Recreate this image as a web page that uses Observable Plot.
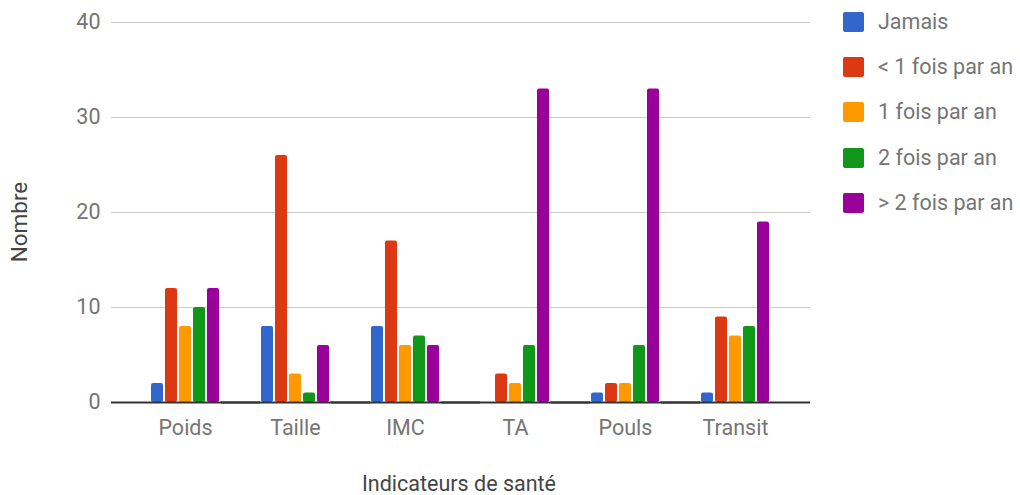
<!DOCTYPE html>
<html>
<head>
<meta charset="utf-8">
<script src="https://cdn.jsdelivr.net/npm/d3@7"></script>
<script src="https://cdn.jsdelivr.net/npm/@observablehq/plot@0.6"></script>
<style>
  body { margin: 0; background: #fff; font-family: Roboto, "Noto Sans", sans-serif; }
  #chart { position: relative; width: 1020px; height: 495px; overflow: hidden; }
  .legend { position: absolute; left: 843px; top: 0; }
  .legend .item { position: absolute; left: 0; height: 20px; white-space: nowrap; }
  .legend .sw { position: absolute; left: 0; top: 0; width: 21px; height: 20px; border-radius: 2px; }
  .legend .lab { position: absolute; left: 35px; top: -1px; font-size: 21.5px; line-height: 22px; color: #757575; }
  .ytitle { position: absolute; left: 19px; top: 222px; transform: translate(-50%, -50%) rotate(-90deg); font-size: 22.5px; line-height: 26px; color: #444; white-space: nowrap; }
  .xtitle { position: absolute; left: 459px; top: 484px; transform: translate(-50%, -50%); font-size: 21.5px; line-height: 24px; color: #444; white-space: nowrap; }
</style>
</head>
<body>
<div id="chart"></div>
<script>
const categories = ["Poids", "Taille", "IMC", "TA", "Pouls", "Transit"];
const series = ["Jamais", "< 1 fois par an", "1 fois par an", "2 fois par an", "> 2 fois par an"];
const jamais   = [2, 8, 8, 0, 1, 1];
const moinsUn  = [12, 26, 17, 3, 2, 9];
const unFois   = [8, 3, 6, 2, 2, 7];
const deuxFois = [10, 1, 7, 6, 6, 8];
const plusDeux = [12, 6, 6, 33, 33, 19];
const colors = ["#3366cc", "#dc3912", "#ff9900", "#109618", "#990099"];
const yTicks = [0, 10, 20, 30, 40];
const yTitle = "Nombre";
const xTitle = "Indicateurs de santé";

const seriesValues = [jamais, moinsUn, unFois, deuxFois, plusDeux];
const data = [];
categories.forEach((c, i) => {
  series.forEach((s, j) => data.push({cat: c, series: s, value: seriesValues[j][i]}));
});

const plot = Plot.plot({
  width: 1020,
  height: 495,
  marginLeft: 129,
  marginRight: 230,
  marginTop: 22,
  marginBottom: 93,
  style: {fontFamily: "Roboto, sans-serif", fontSize: "21.5px", color: "#757575", background: "#fff"},
  fx: {domain: categories, padding: 0, label: null, tickSize: 0, tickPadding: 17},
  x: {domain: series, paddingInner: 0.12, paddingOuter: 1.25, axis: null},
  y: {domain: [0, 40], ticks: yTicks, tickSize: 0, tickPadding: 30, label: null, tickFormat: d => String(d)},
  color: {domain: series, range: colors},
  marks: [
    Plot.ruleY(yTicks.slice(1), {stroke: "#cccccc", strokeWidth: 1, insetLeft: -19, insetRight: -20}),
    Plot.barY(data, {fx: "cat", x: "series", y: "value", fill: "series", rx: 2}),
    Plot.ruleY([0], {stroke: "#333333", strokeWidth: 2, insetLeft: -19, insetRight: -20})
  ]
});

const chart = document.getElementById("chart");
chart.appendChild(plot);

const legend = document.createElement("div");
legend.className = "legend";
series.forEach((s, i) => {
  const item = document.createElement("div");
  item.className = "item";
  item.style.top = (12 + i * 45.2) + "px";
  const sw = document.createElement("div");
  sw.className = "sw";
  sw.style.background = colors[i];
  const lab = document.createElement("div");
  lab.className = "lab";
  lab.textContent = s;
  item.appendChild(sw);
  item.appendChild(lab);
  legend.appendChild(item);
});
chart.appendChild(legend);

const yt = document.createElement("div");
yt.className = "ytitle";
yt.textContent = yTitle;
chart.appendChild(yt);

const xt = document.createElement("div");
xt.className = "xtitle";
xt.textContent = xTitle;
chart.appendChild(xt);
</script>
</body>
</html>
